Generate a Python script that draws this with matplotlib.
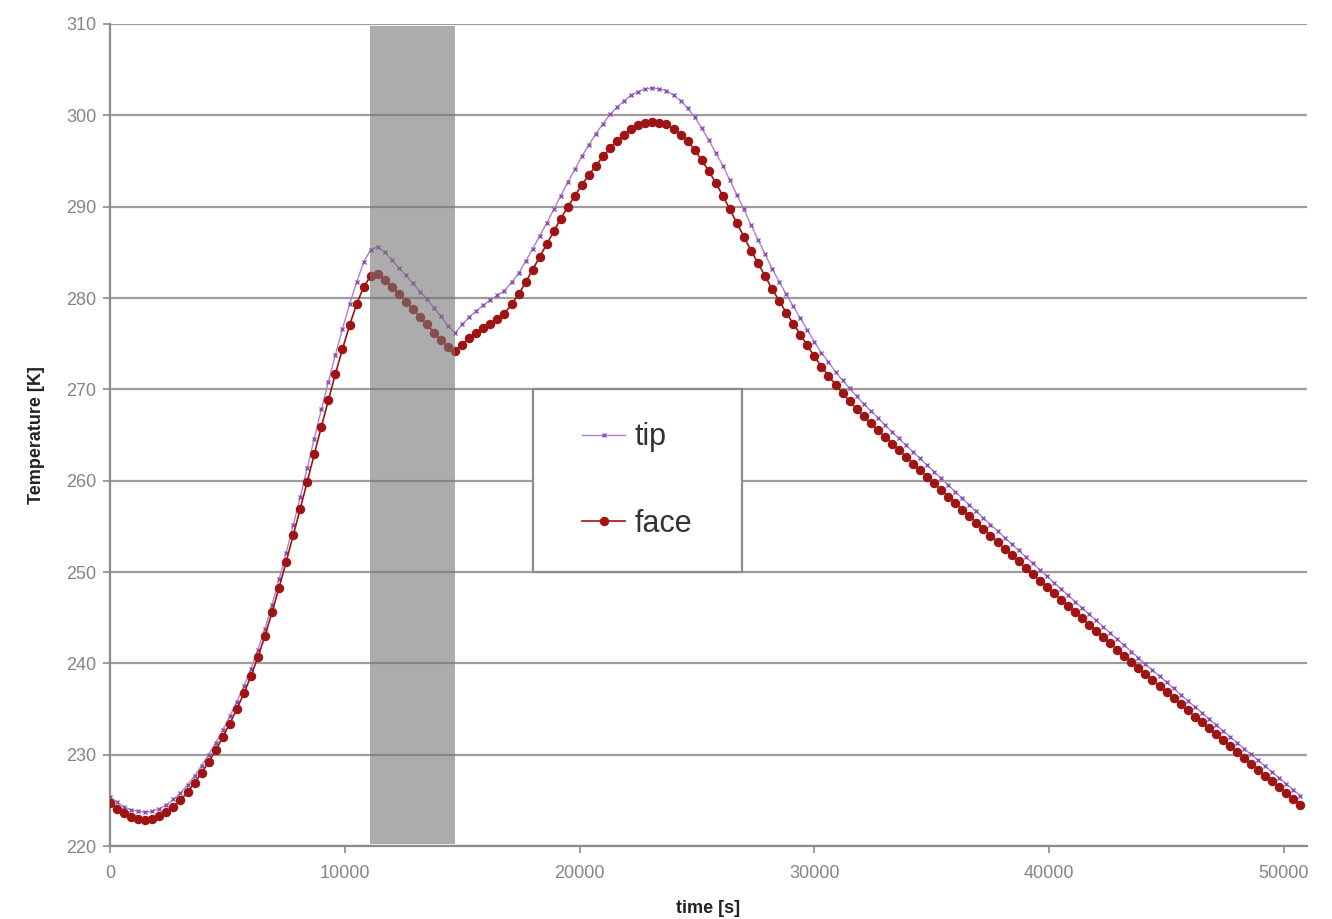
import matplotlib
matplotlib.use("Agg")
import matplotlib.pyplot as plt
from matplotlib.patches import Rectangle

plt.rcParams['font.family'] = ['Liberation Sans', 'DejaVu Sans']

# sample times [s]
time_s = [
    0, 300, 600, 900, 1200, 1500, 1800, 2100, 2400, 2700,
    3000, 3300, 3600, 3900, 4200, 4500, 4800, 5100, 5400, 5700,
    6000, 6300, 6600, 6900, 7200, 7500, 7800, 8100, 8400, 8700,
    9000, 9300, 9600, 9900, 10200, 10500, 10800, 11100, 11400, 11700,
    12000, 12300, 12600, 12900, 13200, 13500, 13800, 14100, 14400, 14700,
    15000, 15300, 15600, 15900, 16200, 16500, 16800, 17100, 17400, 17700,
    18000, 18300, 18600, 18900, 19200, 19500, 19800, 20100, 20400, 20700,
    21000, 21300, 21600, 21900, 22200, 22500, 22800, 23100, 23400, 23700,
    24000, 24300, 24600, 24900, 25200, 25500, 25800, 26100, 26400, 26700,
    27000, 27300, 27600, 27900, 28200, 28500, 28800, 29100, 29400, 29700,
    30000, 30300, 30600, 30900, 31200, 31500, 31800, 32100, 32400, 32700,
    33000, 33300, 33600, 33900, 34200, 34500, 34800, 35100, 35400, 35700,
    36000, 36300, 36600, 36900, 37200, 37500, 37800, 38100, 38400, 38700,
    39000, 39300, 39600, 39900, 40200, 40500, 40800, 41100, 41400, 41700,
    42000, 42300, 42600, 42900, 43200, 43500, 43800, 44100, 44400, 44700,
    45000, 45300, 45600, 45900, 46200, 46500, 46800, 47100, 47400, 47700,
    48000, 48300, 48600, 48900, 49200, 49500, 49800, 50100, 50400, 50700,
]

# temperature at the tip [K]
tip_K = [
    225.4, 224.8, 224.3, 223.95, 223.8, 223.7, 223.8, 224.1, 224.5, 225.1,
    225.8, 226.7, 227.7, 228.8, 230.0, 231.3, 232.7, 234.2, 235.8, 237.5,
    239.4, 241.5, 243.8, 246.4, 249.2, 252.1, 255.1, 258.2, 261.4, 264.6,
    267.8, 270.8, 273.8, 276.6, 279.3, 281.7, 283.9, 285.3, 285.6, 285.0,
    284.2, 283.3, 282.5, 281.6, 280.7, 279.9, 278.9, 278.0, 276.9, 276.2,
    277.1, 277.9, 278.6, 279.2, 279.8, 280.3, 280.8, 281.7, 282.7, 284.0,
    285.4, 286.8, 288.2, 289.7, 291.2, 292.7, 294.1, 295.5, 296.8, 298.0,
    299.1, 300.1, 300.9, 301.6, 302.2, 302.6, 302.9, 303.0, 302.9, 302.7,
    302.2, 301.6, 300.8, 299.8, 298.6, 297.3, 295.9, 294.5, 292.9, 291.3,
    289.7, 288.0, 286.4, 284.8, 283.2, 281.8, 280.4, 279.1, 277.8, 276.5,
    275.2, 274.0, 273.0, 271.9, 271.0, 270.1, 269.25, 268.4, 267.65, 266.9,
    266.1, 265.37, 264.62, 263.89, 263.15, 262.43, 261.69, 260.96, 260.24, 259.51,
    258.79, 258.06, 257.35, 256.63, 255.91, 255.2, 254.49, 253.77, 253.07, 252.36,
    251.66, 250.95, 250.25, 249.55, 248.85, 248.15, 247.46, 246.76, 246.08, 245.38,
    244.7, 244.01, 243.33, 242.64, 241.97, 241.29, 240.61, 239.93, 239.27, 238.59,
    237.92, 237.25, 236.59, 235.92, 235.26, 234.6, 233.94, 233.28, 232.63, 231.97,
    231.33, 230.67, 230.03, 229.38, 228.74, 228.09, 227.45, 226.81, 226.17, 225.53,
]

# temperature at the face [K]
face_K = [
    224.7, 224.1, 223.6, 223.2, 223.0, 222.9, 223.0, 223.3, 223.7, 224.3,
    225.0, 225.9, 226.9, 228.0, 229.2, 230.5, 231.9, 233.4, 235.0, 236.7,
    238.6, 240.7, 243.0, 245.6, 248.3, 251.1, 254.0, 256.9, 259.9, 262.9,
    265.9, 268.8, 271.7, 274.4, 277.0, 279.3, 281.2, 282.4, 282.6, 282.0,
    281.2, 280.4, 279.6, 278.8, 277.9, 277.1, 276.2, 275.4, 274.6, 274.2,
    274.9, 275.6, 276.2, 276.7, 277.2, 277.7, 278.3, 279.3, 280.4, 281.7,
    283.1, 284.5, 285.9, 287.3, 288.7, 290.0, 291.2, 292.4, 293.5, 294.5,
    295.5, 296.4, 297.2, 297.9, 298.5, 298.9, 299.2, 299.3, 299.2, 299.0,
    298.5, 297.9, 297.2, 296.2, 295.1, 293.9, 292.6, 291.2, 289.7, 288.2,
    286.7, 285.2, 283.8, 282.4, 281.0, 279.7, 278.4, 277.2, 276.0, 274.8,
    273.6, 272.5, 271.5, 270.5, 269.6, 268.7, 267.85, 267.05, 266.3, 265.55,
    264.8, 264.07, 263.33, 262.6, 261.87, 261.15, 260.42, 259.7, 258.98, 258.26,
    257.54, 256.82, 256.11, 255.4, 254.68, 253.98, 253.27, 252.56, 251.86, 251.16,
    250.46, 249.76, 249.06, 248.37, 247.67, 246.98, 246.29, 245.6, 244.92, 244.23,
    243.55, 242.87, 242.19, 241.51, 240.84, 240.17, 239.49, 238.82, 238.16, 237.49,
    236.82, 236.16, 235.5, 234.84, 234.18, 233.53, 232.87, 232.22, 231.57, 230.92,
    230.28, 229.63, 228.99, 228.35, 227.71, 227.07, 226.43, 225.8, 225.16, 224.53,
]

# shaded interval [s]
band_start = 11070
band_end = 14700

x_ticks = [0, 10000, 20000, 30000, 40000, 50000]
y_ticks = [220, 230, 240, 250, 260, 270, 280, 290, 300, 310]

fig = plt.figure(figsize=(13.32, 9.19), dpi=100)
ax = fig.add_axes([0.0826, 0.0794, 0.8986, 0.8945])

ax.plot(time_s, tip_K, '-', color='#b07fd0', lw=1.0, marker='x', ms=3.5,
        mew=1.0, mec='#8a4fb0', label='tip', zorder=3)
ax.plot(time_s, face_K, '-', color='#9e1414', lw=1.2, marker='o', ms=5.8,
        mec='#9e1414', mfc='#9e1414', label='face', zorder=3)

ax.axvspan(band_start, band_end, ymin=0.003, ymax=0.997,
           color='#767676', alpha=0.6, lw=0, zorder=4)

ax.set_xlim(0, 50980)
ax.set_ylim(220, 310)
ax.set_xticks(x_ticks)
ax.set_yticks(y_ticks)

ax.yaxis.grid(True, color='#9c9c9c', lw=1.6)
ax.set_axisbelow(True)
for side in ['top', 'right']:
    ax.spines[side].set_visible(False)
for side in ['left', 'bottom']:
    ax.spines[side].set_color('#8c8c8c')
    ax.spines[side].set_linewidth(1.6)

ax.tick_params(axis='both', direction='out', length=5, width=1.2,
               color='#8c8c8c', labelcolor='#858585', labelsize=13)
ax.tick_params(axis='y', pad=5)
ax.tick_params(axis='x', pad=9)

ax.set_xlabel('time [s]', fontsize=13, fontweight='bold', color='#222222')
ax.set_ylabel('Temperature [K]', fontsize=13, fontweight='bold', color='#222222')
ax.xaxis.set_label_coords(0.5, -0.066)
ax.yaxis.set_label_coords(-0.054, 0.5)

# legend box
ax.add_patch(Rectangle((18000, 250), 8900, 20, facecolor='white',
                       edgecolor='#8c8c8c', lw=1.6, zorder=5))
leg = ax.legend(loc='center', bbox_to_anchor=(22450, 260),
                bbox_transform=ax.transData, frameon=False, fontsize=22,
                handlelength=1.4, handletextpad=0.3, labelspacing=1.85,
                borderpad=0.5)
leg.set_zorder(6)
for txt in leg.get_texts():
    txt.set_color('#333333')

fig.savefig('out.png', dpi=100)
